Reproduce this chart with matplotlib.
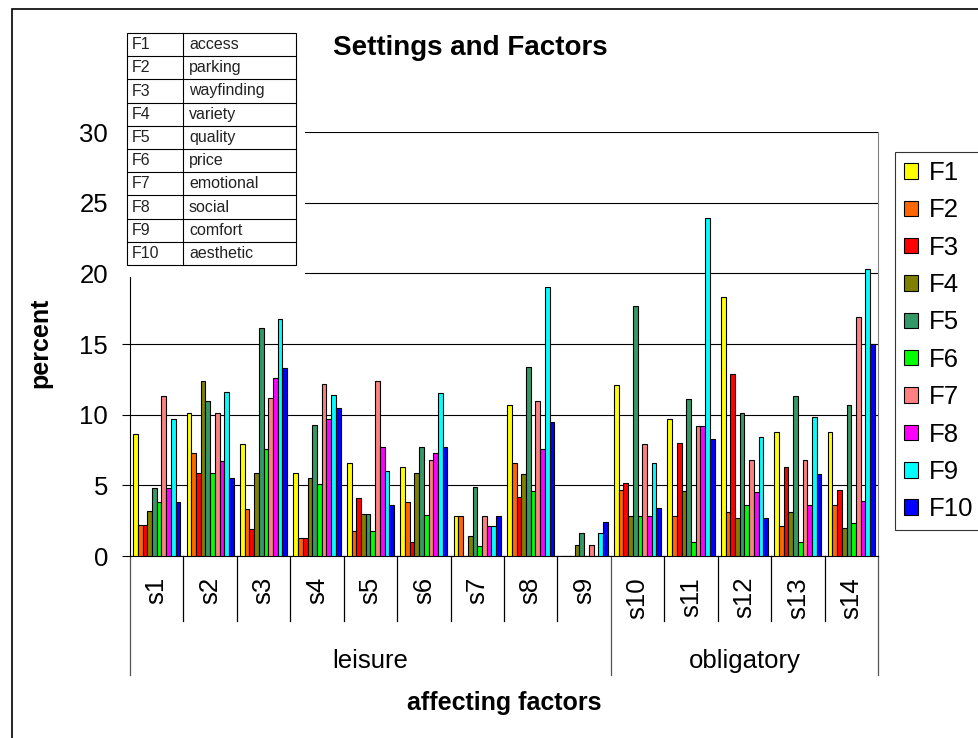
import numpy as np
import matplotlib
matplotlib.use("Agg")
import matplotlib.pyplot as plt
from matplotlib.patches import Rectangle

plt.rcParams['font.family'] = ['Liberation Sans', 'DejaVu Sans']

W, H = 979, 738

settings = ['s1', 's2', 's3', 's4', 's5', 's6', 's7', 's8', 's9',
            's10', 's11', 's12', 's13', 's14']
groups = ['leisure', 'obligatory']
group_sizes = [9, 5]

factors = ['F1', 'F2', 'F3', 'F4', 'F5', 'F6', 'F7', 'F8', 'F9', 'F10']
factor_names = ['access', 'parking', 'wayfinding', 'variety', 'quality',
                'price', 'emotional', 'social', 'comfort', 'aesthetic']
colors = ['#FFFF00', '#FF6600', '#FF0000', '#808000', '#339966',
          '#00FF00', '#FF8080', '#FF00FF', '#00FFFF', '#0000FF']

# percent per setting (s1..s14) for each factor
f1 = [8.6, 10.1, 7.9, 5.9, 6.6, 6.3, 2.8, 10.7, 0, 12.1, 9.7, 18.3, 8.8, 8.8]
f2 = [2.2, 7.3, 3.3, 1.3, 1.8, 3.8, 2.8, 6.6, 0, 4.7, 2.8, 3.1, 2.1, 3.6]
f3 = [2.2, 5.9, 1.9, 1.3, 4.1, 1.0, 0, 4.2, 0, 5.2, 8.0, 12.9, 6.3, 4.7]
f4 = [3.2, 12.4, 5.9, 5.5, 3.0, 5.9, 1.4, 5.8, 0.8, 2.8, 4.6, 2.7, 3.1, 2.0]
f5 = [4.8, 11.0, 16.1, 9.3, 3.0, 7.7, 4.9, 13.4, 1.6, 17.7, 11.1, 10.1, 11.3, 10.7]
f6 = [3.8, 5.9, 7.6, 5.1, 1.8, 2.9, 0.7, 4.6, 0, 2.8, 1.0, 3.6, 1.0, 2.3]
f7 = [11.3, 10.1, 11.2, 12.2, 12.4, 6.8, 2.8, 11.0, 0.8, 7.9, 9.2, 6.8, 6.8, 16.9]
f8 = [4.8, 6.7, 12.6, 9.7, 7.7, 7.3, 2.1, 7.6, 0, 2.8, 9.2, 4.5, 3.6, 3.9]
f9 = [9.7, 11.6, 16.8, 11.4, 6.0, 11.5, 2.1, 19.0, 1.6, 6.6, 23.9, 8.4, 9.8, 20.3]
f10 = [3.8, 5.5, 13.3, 10.5, 3.6, 7.7, 2.8, 9.5, 2.4, 3.4, 8.3, 2.7, 5.8, 15.0]
values = [f1, f2, f3, f4, f5, f6, f7, f8, f9, f10]


def px(x, y):
    # pixel position (from top-left) -> figure fraction
    return x / W, 1 - y / H


fig = plt.figure(figsize=(W / 100, H / 100), dpi=100)
left, top = px(130, 132)
right, bottom = px(878, 556)
ax = fig.add_axes([left, bottom, right - left, top - bottom])

n = len(settings)
bw = 0.0884
centers = np.arange(n) + 0.5
bars = []
for j, (vals, col, name) in enumerate(zip(values, colors, factors)):
    b = ax.bar(centers + (j - 4.5) * bw, vals, width=bw, color=col,
               edgecolor='black', linewidth=0.8, label=name, zorder=3)
    bars.append(b)

ax.set_xlim(0, n)
ax.set_ylim(0, 30)
ax.set_yticks(np.arange(0, 31, 5))
ax.set_xticks([])
ax.yaxis.grid(True, color='black', linewidth=0.8)
ax.set_axisbelow(True)
ax.tick_params(axis='y', direction='out', length=5.8, width=0.8,
               pad=10, labelsize=18.5)
ax.spines['left'].set_color('black')
ax.spines['bottom'].set_color('black')
ax.spines['right'].set_color('#808080')
ax.spines['top'].set_visible(False)

# category axis: setting labels and separators
xt = ax.get_xaxis_transform()
yf = lambda ypix: (556 - ypix) / 424
for i, s in enumerate(settings):
    ax.text(i + 0.5, yf(577), s, rotation=90, ha='center', va='top',
            fontsize=18.5, transform=xt)
bounds = np.cumsum([0] + group_sizes)
for b in range(n + 1):
    low = 675 if b in bounds else 621
    col = '#555555' if b in bounds else 'black'
    ax.plot([b, b], [0, yf(low)], color=col, linewidth=0.9,
            transform=xt, clip_on=False)
for g, a, z in zip(groups, bounds[:-1], bounds[1:]):
    ax.text((a + z) / 2, yf(661), g, ha='center', va='center',
            fontsize=18.5, transform=xt)

fig.text(*px(504, 703), 'affecting factors', ha='center', va='center',
         fontsize=18, fontweight='bold')
fig.text(*px(40, 343), 'percent', ha='center', va='center', rotation=90,
         fontsize=18, fontweight='bold')
fig.text(*px(470, 48), 'Settings and Factors', ha='center', va='center',
         fontsize=20, fontweight='bold')

leg = fig.legend(handles=bars, loc='upper left',
                 bbox_to_anchor=px(895, 152), fontsize=18.5,
                 frameon=True, fancybox=False, edgecolor='black',
                 handlelength=0.55, handleheight=0.55, handletextpad=0.4,
                 labelspacing=0.52, borderpad=0.35, borderaxespad=0)
leg.get_frame().set_linewidth(0.8)

# factor key table on a white card
x0, y0 = px(120, 28)
x1, y1 = px(305, 277)
fig.patches.append(Rectangle((x0, y1), x1 - x0, y0 - y1, facecolor='white',
                             edgecolor='none', transform=fig.transFigure,
                             zorder=5))
tl, tm, tr = 127, 183, 296
ttop, tbot = 33, 265
rh = (tbot - ttop) / len(factors)
fx0, fy0 = px(tl, ttop)
fx1, fy1 = px(tr, tbot)
fig.patches.append(Rectangle((fx0, fy1), fx1 - fx0, fy0 - fy1,
                             facecolor='white', edgecolor='black',
                             linewidth=0.8, transform=fig.transFigure,
                             zorder=6))
for k in range(1, len(factors)):
    ya = px(0, ttop + k * rh)[1]
    fig.add_artist(plt.Line2D([fx0, fx1], [ya, ya], color='black',
                              linewidth=0.8, zorder=7))
fig.add_artist(plt.Line2D([px(tm, 0)[0]] * 2, [fy0, fy1], color='black',
                          linewidth=0.8, zorder=7))
for k, (f, nm) in enumerate(zip(factors, factor_names)):
    yc = ttop + (k + 0.5) * rh
    fig.text(*px(tl + 5, yc), f, ha='left', va='center', fontsize=11.5,
             color='#222222', zorder=8)
    fig.text(*px(tm + 6, yc), nm, ha='left', va='center', fontsize=11.5,
             color='#222222', zorder=8)

# outer frame
bx, by = px(12, 9)
fig.patches.append(Rectangle((bx, -0.1), 1.2, by + 0.1, facecolor='none',
                             edgecolor='black', linewidth=1.2,
                             transform=fig.transFigure, zorder=10))

fig.savefig('out.png', dpi=100)
